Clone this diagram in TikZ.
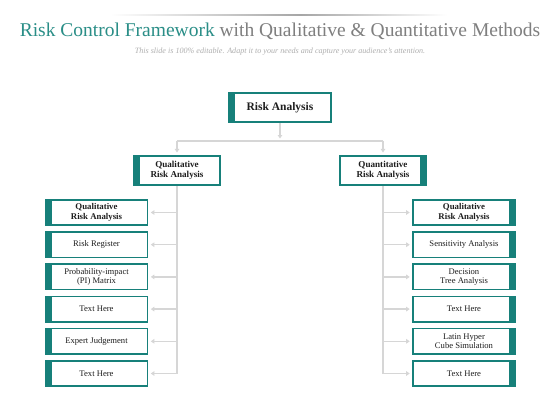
\documentclass[tikz,border=0pt]{standalone}
\usepackage{fontspec}
\setmainfont{Liberation Serif}
\usetikzlibrary{arrows.meta}
\definecolor{tealc}{HTML}{17807A}
\definecolor{titleteal}{HTML}{2A8E87}
\definecolor{titlegray}{HTML}{7F7F7F}
\definecolor{subgray}{HTML}{AFAFAF}
\definecolor{linec}{HTML}{D6D6D6}
\definecolor{txt}{HTML}{1E1E1E}
\begin{document}
\begin{tikzpicture}[x=1pt,y=-1pt,
  box/.style={draw=tealc, line width=1.6pt, fill=white, inner sep=0pt, align=center, text=txt},
  lbar/.style={path picture={\fill[tealc] (path picture bounding box.north west) rectangle ([xshift=6pt]path picture bounding box.south west);}},
  rbar/.style={path picture={\fill[tealc] (path picture bounding box.north east) rectangle ([xshift=-6pt]path picture bounding box.south east);}},
  topbox/.style={box, minimum width=102pt, minimum height=29pt, font=\bfseries\fontsize{11.5}{13}\selectfont},
  midbox/.style={box, minimum width=86pt, minimum height=29.5pt, font=\bfseries\fontsize{9.1}{10.3}\selectfont},
  leaf/.style={box, minimum width=102pt, minimum height=25.5pt, font=\fontsize{8.6}{9.6}\selectfont},
  leafb/.style={leaf, font=\bfseries\fontsize{8.8}{9.6}\selectfont},
  conn/.style={draw=linec, line width=1.3pt},
  arr/.style={-{Triangle[length=3.5pt,width=4.5pt]}, shorten >=2.5pt}
]
\useasboundingbox[fill=white] (0,0) rectangle (560,420);
% top decorative line
\shade[left color=white, right color=black!35] (110,14.6) rectangle (300,15.4);
\shade[left color=black!35, right color=white] (300,14.6) rectangle (447,15.4);
% title
\node[anchor=base, inner sep=0pt, font=\fontsize{19.5}{22}\selectfont] (title) at (280,37)
  {\textcolor{titleteal}{Risk Control Framework} \textcolor{titlegray}{with Qualitative \& Quantitative Methods}};
\node[anchor=base, inner sep=0pt, text=subgray, font=\itshape\fontsize{8.1}{9}\selectfont] (sub) at (280,54)
  {This slide is 100\% editable. Adapt it to your needs and capture your audience's attention.};
% boxes
\node[topbox, lbar] (top) at (280,107.5) {Risk Analysis};
\node[midbox, lbar] (ql) at (177,170.5) {Qualitative\\Risk Analysis};
\node[midbox, rbar] (qn) at (383,170.5) {Quantitative\\Risk Analysis};

\node[leafb, lbar] (l1) at (96.5,212.5) {Qualitative\\Risk Analysis};
\node[leaf, lbar] (l2) at (96.5,244.7) {Risk Register};
\node[leaf, lbar] (l3) at (96.5,276.9) {Probability-impact\\(PI) Matrix};
\node[leaf, lbar] (l4) at (96.5,309.1) {Text Here};
\node[leaf, lbar] (l5) at (96.5,341.3) {Expert Judgement};
\node[leaf, lbar] (l6) at (96.5,373.5) {Text Here};

\node[leafb, rbar] (r1) at (464,212.5) {Qualitative\\Risk Analysis};
\node[leaf, rbar] (r2) at (464,244.7) {Sensitivity Analysis};
\node[leaf, rbar] (r3) at (464,276.9) {Decision\\Tree Analysis};
\node[leaf, rbar] (r4) at (464,309.1) {Text Here};
\node[leaf, rbar] (r5) at (464,341.3) {Latin Hyper\\Cube Simulation};
\node[leaf, rbar] (r6) at (464,373.5) {Text Here};

% connectors
\coordinate (busM) at (280,141);
\coordinate (busL) at (177,141);
\coordinate (busR) at (383,141);
\draw[conn, arr] (top.south) -- (busM);
\draw[conn] (busL) -- (busR);
\draw[conn, arr] (busL) -- (ql.north);
\draw[conn, arr] (busR) -- (qn.north);
\draw[conn] (ql.south) -- (ql.south |- l6.east);
\draw[conn] (qn.south) -- (qn.south |- r6.west);
\foreach \i in {1,...,6}{
  \draw[conn, arr] (ql.south |- l\i.east) -- (l\i.east);
  \draw[conn, arr] (qn.south |- r\i.west) -- (r\i.west);
}
\end{tikzpicture}
\end{document}
